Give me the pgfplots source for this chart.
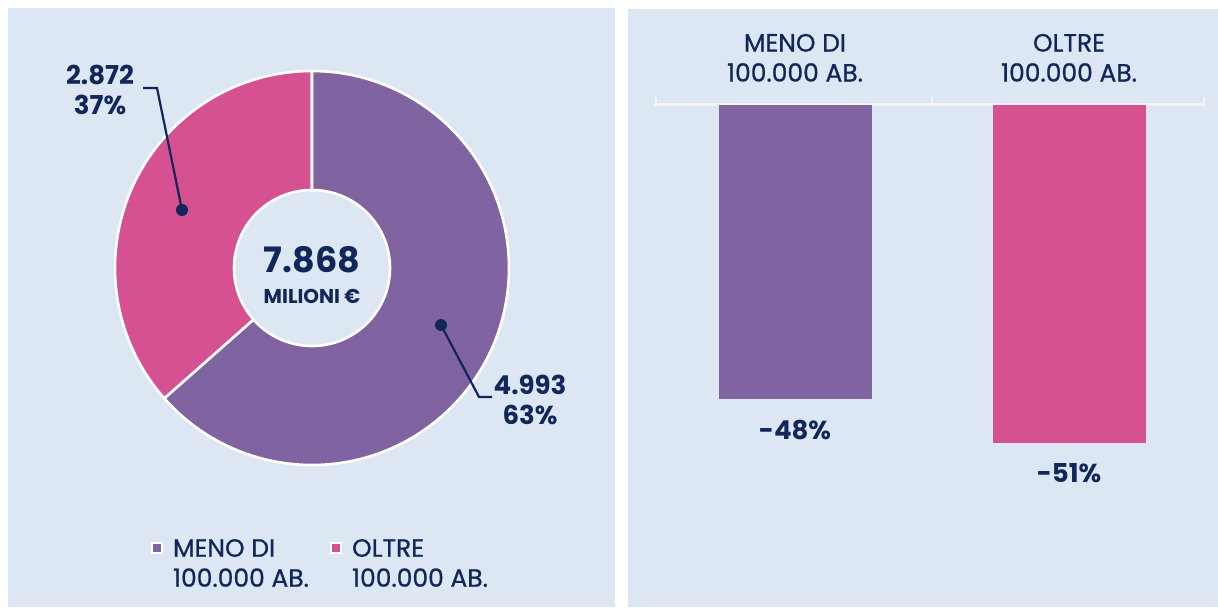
\documentclass[border=0pt]{standalone}
\usepackage{pgfplots}
\pgfplotsset{compat=1.18}
\usepackage{fontspec}
\setmainfont{Poppins}
\newfontfamily\medfont{Poppins}[FakeBold=0.8]
\definecolor{bg}{HTML}{DDE7F3}
\definecolor{purp}{HTML}{8064A2}
\definecolor{pinkc}{HTML}{D55191}
\definecolor{navy}{HTML}{112659}
\definecolor{axl}{HTML}{F4F4F4}
\begin{document}
\begin{tikzpicture}[x=0.5pt,y=0.5pt]
\fill[white] (0,0) rectangle (1218,607);
\fill[bg] (8,0) rectangle (615,599);
\fill[bg] (628,0) rectangle (1218,598);
\begin{axis}[at={(0,0)}, anchor=south west, x=0.5pt, y=0.5pt,
  xmin=0, xmax=620, ymin=0, ymax=607, hide axis, clip=false]
\pgfmathsetmacro\tot{4.993+2.872}
\pgfmathsetmacro\ap{90+360*(2.872/\tot)}
\def\R{98.5pt}\def\r{39pt}
\coordinate (c) at (axis cs:312,339);
\fill[pinkc, draw=white, line width=1.3pt] (c) ++(90:\R) arc[start angle=90, end angle=\ap, radius=\R]
  -- ([shift={(\ap:\r)}]c) arc[start angle=\ap, end angle=90, radius=\r] -- cycle;
\fill[purp, draw=white, line width=1.3pt] (c) ++(\ap:\R) arc[start angle=\ap, end angle=450, radius=\R]
  -- ([shift={(90:\r)}]c) arc[start angle=450, end angle=\ap, radius=\r] -- cycle;
% leaders
\draw[navy, line width=1.1pt] (axis cs:182,397) -- (axis cs:157,519) -- (axis cs:143,519);
\fill[navy] (axis cs:182,397) circle (3pt);
\draw[navy, line width=1.1pt] (axis cs:441,282) -- (axis cs:479,210) -- (axis cs:492,210);
\fill[navy] (axis cs:441,282) circle (3pt);
\node[navy, align=center, font=\bfseries\fontsize{13}{15}\selectfont] at (axis cs:100,517) {2.872\\37\%};
\node[navy, align=center, font=\bfseries\fontsize{13}{15}\selectfont] at (axis cs:530,207) {4.993\\63\%};
\node[navy, font=\bfseries\fontsize{17.5}{21}\selectfont] at (axis cs:312,347) {7.868};
\node[navy, font=\bfseries\fontsize{10}{11}\selectfont] at (axis cs:312,311) {MILIONI €};
% legend
\fill[purp, draw=white, line width=0.8pt] (axis cs:152,54) rectangle (axis cs:162,64);
\node[navy, anchor=west, align=left, font=\medfont\fontsize{12.5}{15}\selectfont] at (axis cs:166,44) {MENO DI\\100.000 AB.};
\fill[pinkc, draw=white, line width=0.8pt] (axis cs:331,54) rectangle (axis cs:341,64);
\node[navy, anchor=west, align=left, font=\medfont\fontsize{12.5}{15}\selectfont] at (axis cs:345,44) {OLTRE\\100.000 AB.};
\end{axis}
\begin{axis}[at={(655,120)}, anchor=south west, x=0.5pt, y=3.0625pt,
  xmin=655, xmax=1205, ymin=-70, ymax=0, clip=false,
  ybar, axis x line*=top, axis y line=none,
  xtick={795,1069}, xticklabels={{MENO DI\\100.000 AB.},{OLTRE\\100.000 AB.}},
  xticklabel style={align=center, text=navy, font=\medfont\fontsize{12.5}{15}\selectfont},
  xticklabel shift=8pt, major tick length=0pt,
  axis line style={axl, line width=1.6pt, line cap=round, -},
  extra x ticks={656,932,1204}, extra x tick labels={},
  extra x tick style={major tick length=4pt, tick align=outside, tick style={axl, line width=1.4pt}},
  every node near coord/.append style={navy, font=\bfseries\fontsize{13}{15}\selectfont, anchor=north, yshift=-7pt},
]
\addplot[ybar, bar width=76.5pt, bar shift=0pt, fill=purp, draw=none,
  nodes near coords, point meta=explicit symbolic] coordinates {(795,-48) [-48\%]};
\addplot[ybar, bar width=76.5pt, bar shift=0pt, fill=pinkc, draw=none,
  nodes near coords, point meta=explicit symbolic] coordinates {(1069,-55.2) [-51\%]};
\end{axis}
\end{tikzpicture}
\end{document}
